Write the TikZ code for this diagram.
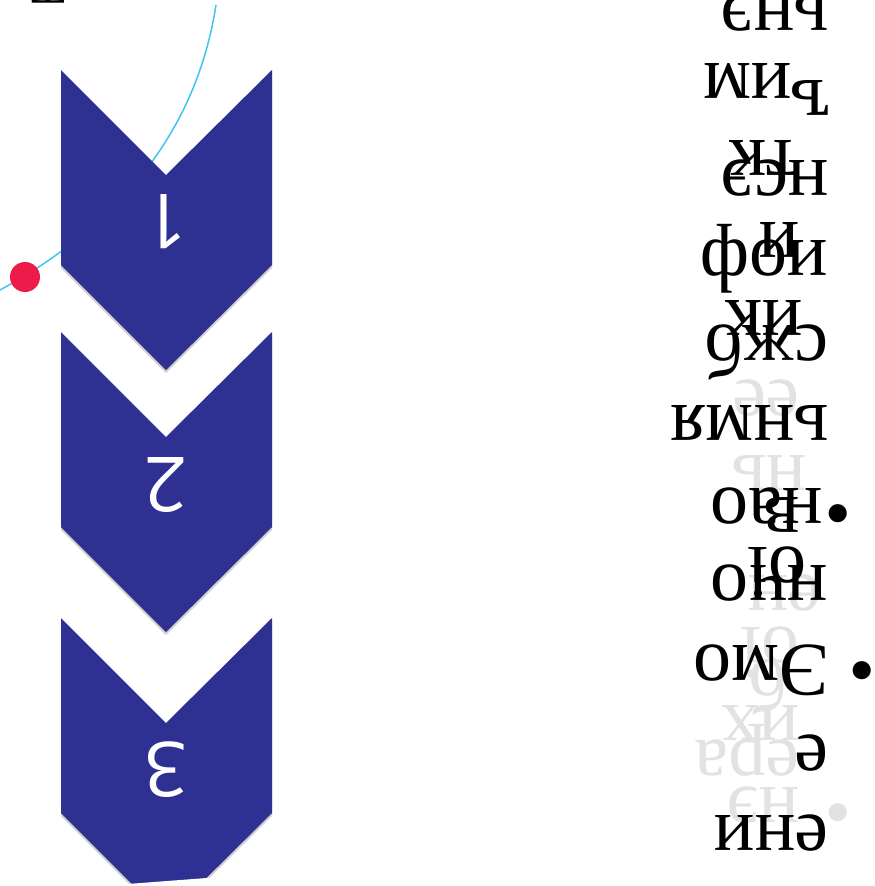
\documentclass[tikz,border=0pt]{standalone}
\usepackage{fontspec}
\setmainfont{Liberation Serif}
\newfontfamily\numfont{Open Sans}
\usetikzlibrary{shadows}
\definecolor{chev}{HTML}{2E3192}
\definecolor{curveblue}{HTML}{40C4F0}
\definecolor{dotred}{HTML}{EE1A4A}
\definecolor{ghost}{HTML}{E2E2E2}
\tikzset{
  chevron/.style={fill=chev, draw=none, drop shadow={shadow xshift=0pt, shadow yshift=-3pt, opacity=0.18, fill=black}},
  numlabel/.style={text=white, font=\numfont\fontsize{76}{80}\selectfont, inner sep=0pt, rotate=180},
  btxt/.style={text=black, font=\fontsize{76}{80}\selectfont, inner sep=0pt, anchor=base west, rotate=180},
  gtxt/.style={btxt, text=ghost},
  bul/.style={text=black, font=\fontsize{76}{80}\selectfont, inner sep=0pt, anchor=base, rotate=180},
  gbul/.style={bul, text=ghost}
}
\begin{document}
\begin{tikzpicture}[x=1pt,y=-1pt]
\useasboundingbox (0,0) rectangle (875,886);
\clip (0,0) rectangle (875,886);
\fill[white] (0,0) rectangle (875,886);

% curve and dot
\draw[curveblue, line width=1.5pt] (216,5) .. controls (195,140) and (110,230) .. (0,290);
\fill[dotred] (25,277) circle (15);

% chevrons
\path[chevron] (61,70) -- (166,175) -- (272,70) -- (272,265) -- (166,370) -- (61,265) -- cycle;
\path[chevron] (61,332) -- (166,437) -- (272,332) -- (272,527) -- (166,632) -- (61,527) -- cycle;
\path[chevron] (61,618) -- (166,723) -- (272,618) -- (272,813) -- (166,918) -- (61,813) -- cycle;
\fill[white] (125,884.2) -- (212,877.6) -- (212,890) -- (125,890) -- cycle;

\node[numlabel] (n1) at (166,222) {1};
\node[numlabel] (n2) at (166,485) {2};
\node[numlabel] (n3) at (166,770) {3};

% top-left cut glyph
\node[btxt, font=\fontsize{56}{60}\selectfont] (tl) at (66,-33) {Т};

% ghost (light grey) text
\node[gtxt] (g1) at (800,787) {нэ};
\node[gbul] (gb1) at (838,787) {•};
\node[gtxt] (g2) at (800,740) {ера};
\node[gtxt] (g3) at (800,705) {их};
\node[gtxt] (g4) at (788,660) {б};
\node[gtxt] (g5) at (800,627) {оі};
\node[gtxt] (g6) at (822,575) {ен};
\node[gtxt] (g7) at (807,455) {нь};
\node[gtxt] (g8) at (800,380) {ее};

% black text
\node[btxt] (t1) at (829,815) {ени};
\node[btxt] (t2) at (829,735) {е};
\node[btxt] (t3) at (830,645) {Эмо};
\node[bul] (b1) at (862,645) {•};
\node[btxt] (t4) at (828,565) {нчо};
\node[btxt] (t4b) at (807,547) {оі};
\node[btxt] (t5) at (823,488) {нао};
\node[btxt] (t5b) at (800,497) {в};
\node[bul] (b2) at (838,488) {•};
\node[btxt] (t6) at (829,405) {ьнмя};
\node[btxt] (t7) at (829,325) {сжб};
\node[btxt] (t7b) at (803,300) {ик};
\node[btxt] (t8) at (828,240) {иоф};
\node[btxt] (t8b) at (800,222) {и};
\node[btxt] (t9) at (829,160) {нсэ};
\node[btxt] (t9b) at (800,140) {тк};
\node[btxt] (t10) at (792,63) {им};
\node[btxt] (t10b) at (830,80) {ъ};
\node[btxt] (t11) at (829,-5) {ьнэ};
\end{tikzpicture}
\end{document}
